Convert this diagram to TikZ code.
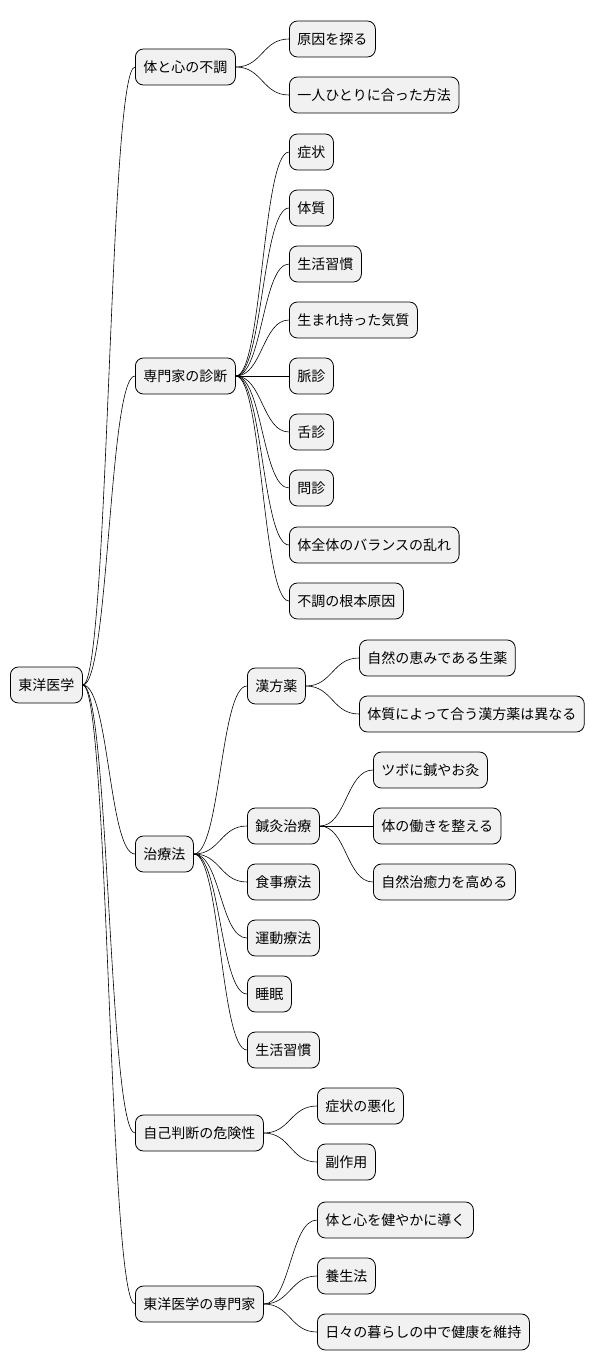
\documentclass[tikz,border=0pt]{standalone}
\usepackage{fontspec}
\setmainfont{Noto Sans CJK JP}
\usetikzlibrary{calc}
\begin{document}
\begin{tikzpicture}[x=1pt,y=1pt,
  box/.style={draw=black,fill={rgb,255:red,241;green,241;blue,241},rounded corners=8pt,minimum height=36pt,inner xsep=8pt,anchor=west,font=\fontsize{14}{16}\selectfont,line width=0.8pt},
  link/.style={draw=black,line width=0.6pt}]
\useasboundingbox (0,0) rectangle (600,-1372);
\node[box] (r) at (10,-685) {東洋医学};
\node[box] (a) at (135,-67) {体と心の不調};
\node[box] (b) at (135,-376) {専門家の診断};
\node[box] (c) at (135,-854) {治療法};
\node[box] (d) at (135,-1133) {自己判断の危険性};
\node[box] (e) at (135,-1304) {東洋医学の専門家};
\node[box] (a1) at (289,-39) {原因を探る};
\node[box] (a2) at (289,-95) {一人ひとりに合った方法};
\node[box] (b1) at (289,-152) {症状};
\node[box] (b2) at (289,-208) {体質};
\node[box] (b3) at (289,-264) {生活習慣};
\node[box] (b4) at (289,-320) {生まれ持った気質};
\node[box] (b5) at (289,-376) {脈診};
\node[box] (b6) at (289,-432) {舌診};
\node[box] (b7) at (289,-488) {問診};
\node[box] (b8) at (289,-545) {体全体のバランスの乱れ};
\node[box] (b9) at (289,-601) {不調の根本原因};
\node[box] (c1) at (247,-686) {漢方薬};
\node[box] (c2) at (247,-826) {鍼灸治療};
\node[box] (c3) at (247,-882) {食事療法};
\node[box] (c4) at (247,-938) {運動療法};
\node[box] (c5) at (247,-994) {睡眠};
\node[box] (c6) at (247,-1050) {生活習慣};
\node[box] (c11) at (359,-658) {自然の恵みである生薬};
\node[box] (c12) at (359,-714) {体質によって合う漢方薬は異なる};
\node[box] (c21) at (373,-770) {ツボに鍼やお灸};
\node[box] (c22) at (373,-826) {体の働きを整える};
\node[box] (c23) at (373,-882) {自然治癒力を高める};
\node[box] (d1) at (317,-1106) {症状の悪化};
\node[box] (d2) at (317,-1162) {副作用};
\node[box] (e1) at (317,-1220) {体と心を健やかに導く};
\node[box] (e2) at (317,-1276) {養生法};
\node[box] (e3) at (317,-1332) {日々の暮らしの中で健康を維持};
\foreach \pa/\ch in {r/a,r/b,r/c,r/d,r/e,a/a1,a/a2,b/b1,b/b2,b/b3,b/b4,b/b5,b/b6,b/b7,b/b8,b/b9,c/c1,c/c2,c/c3,c/c4,c/c5,c/c6,c1/c11,c1/c12,c2/c21,c2/c22,c2/c23,d/d1,d/d2,e/e1,e/e2,e/e3}
  \draw[link] let \p1=(\pa.east), \p2=(\ch.west) in (\p1) .. controls ({(\x1+\x2)/2},\y1) and ({(\x1+\x2)/2},\y2) .. (\p2);
\end{tikzpicture}
\end{document}
